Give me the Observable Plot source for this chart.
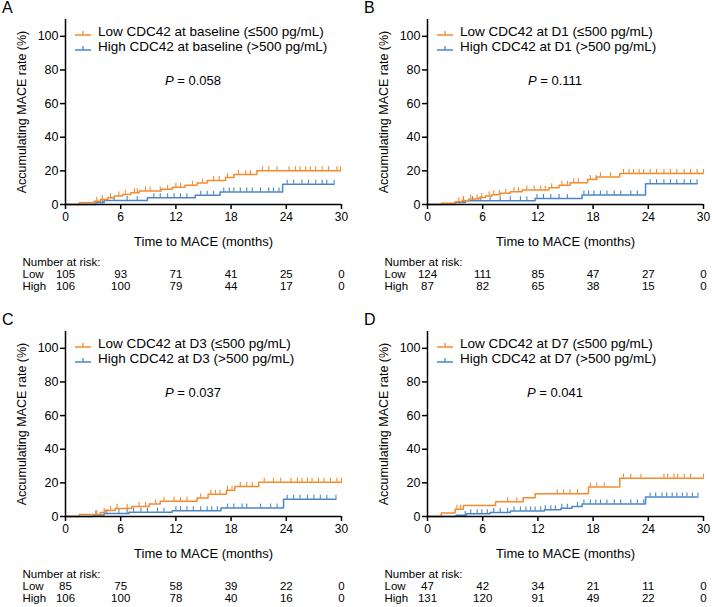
<!DOCTYPE html>
<html>
<head>
<meta charset="utf-8">
<script src="https://cdn.jsdelivr.net/npm/d3@7"></script>
<script src="https://cdn.jsdelivr.net/npm/@observablehq/plot@0.6"></script>
<style>
  body { margin: 0; background: #fff; font-family: "Liberation Sans", Arial, sans-serif; color: #000; }
  #root { position: relative; width: 712px; height: 607px; overflow: hidden; }
  .panel { position: absolute; width: 356px; height: 305px; }
  .panel svg { position: absolute; left: 0; overflow: visible; }
  .letter { position: absolute; left: 2px; top: 0px; font-size: 16px; line-height: 16px; }
  .legend { position: absolute; left: 75px; height: 16px; line-height: 16px; font-size: 13.5px; white-space: nowrap; display: flex; align-items: center; }
  .legend svg { position: static; margin-right: 7px; }
  .pval { position: absolute; left: 193px; top: 73px; transform: translateX(-50%); font-size: 13px; line-height: 16px; white-space: nowrap; }
</style>
</head>
<body>
<div id="root"></div>
<script>
// ---------------- data ----------------
const panelLetters = ["A", "B", "C", "D"];
const timepoints = ["baseline", "D1", "D3", "D7"];
const pValues = ["0.058", "0.111", "0.037", "0.041"];
const xTicks = [0, 6, 12, 18, 24, 30];
const yTicks = [0, 20, 40, 60, 80, 100];
const riskRows = ["Number at risk:", "Low", "High"];

// Panel A (baseline)
const lowTimesA  = [1.5, 3.1, 3.8, 4.6, 5.3, 6.2, 7.1, 8.0, 10.4, 11.6, 13.0, 14.3, 15.4, 17.4, 18.3, 20.8];
const lowRatesA  = [1.0, 2.0, 3.0, 4.0, 5.0, 6.0, 7.0, 8.0, 9.1, 10.2, 11.4, 12.8, 14.2, 16.0, 17.9, 20.1];
const lowCensorA = [3.4, 4.0, 4.9, 5.8, 6.5, 7.5, 7.8, 8.7, 9.2, 10.3, 11.1, 12.0, 12.5, 13.8, 14.9, 16.1, 16.7, 17.6, 18.8, 19.6, 20.1, 21.4, 22.1, 23.0, 24.3, 25.0, 25.5, 26.1, 26.6, 27.2, 27.9, 28.6, 29.5, 29.9];
const highTimesA  = [3.3, 4.2, 8.9, 14.1, 16.8, 23.6];
const highRatesA  = [1.2, 2.4, 4.0, 5.5, 7.5, 12.1];
const highCensorA = [4.0, 5.3, 6.7, 7.8, 9.6, 10.3, 11.1, 11.8, 12.5, 13.2, 14.7, 15.4, 16.1, 17.2, 17.8, 18.3, 19.0, 19.7, 20.3, 21.2, 22.1, 22.6, 23.2, 24.1, 24.8, 25.7, 26.4, 27.2, 27.9, 28.4, 29.2];
const riskLowA  = [105, 93, 71, 41, 25, 0];
const riskHighA = [106, 100, 79, 44, 17, 0];

// Panel B (D1)
const lowTimesB  = [1.5, 3.0, 3.8, 4.5, 5.6, 6.3, 7.0, 7.9, 9.0, 10.3, 13.2, 14.3, 15.5, 17.4, 18.4, 20.9];
const lowRatesB  = [0.8, 1.6, 2.4, 3.2, 4.1, 5.0, 5.8, 6.7, 7.6, 8.6, 10.0, 11.5, 13.0, 14.8, 16.4, 18.5];
const lowCensorB = [3.4, 3.9, 4.7, 5.4, 5.9, 6.7, 7.2, 7.8, 8.5, 9.4, 9.9, 10.8, 11.6, 12.3, 12.8, 13.5, 14.6, 15.2, 15.9, 16.4, 17.7, 18.3, 18.8, 19.9, 21.3, 21.9, 22.4, 23.0, 23.5, 24.2, 24.9, 25.7, 26.4, 27.1, 27.9, 28.6, 29.3, 30.0];
const highTimesB  = [3.0, 4.1, 11.7, 16.8, 23.7];
const highRatesB  = [1.2, 2.3, 3.6, 5.6, 12.4];
const highCensorB = [3.9, 4.9, 5.8, 6.8, 7.9, 9.0, 10.1, 10.8, 11.9, 12.6, 13.4, 14.3, 15.2, 17.0, 17.5, 18.1, 18.8, 19.5, 20.3, 21.0, 22.1, 22.8, 24.2, 24.9, 25.7, 26.4, 27.1, 27.9, 28.6, 29.3];
const riskLowB  = [124, 111, 85, 47, 27, 0];
const riskHighB = [87, 82, 65, 38, 15, 0];

// Panel C (D3)
const lowTimesC  = [1.5, 3.8, 4.3, 5.4, 7.2, 9.1, 10.3, 14.3, 15.5, 17.5, 18.4, 21.0];
const lowRatesC  = [1.2, 2.4, 3.6, 4.8, 6.0, 7.5, 9.0, 11.0, 13.2, 15.6, 17.9, 20.4];
const lowCensorC = [3.4, 4.2, 4.9, 5.6, 6.7, 8.0, 8.7, 9.8, 10.7, 11.8, 12.5, 13.2, 14.7, 15.8, 16.3, 16.8, 17.6, 18.1, 19.0, 19.7, 20.3, 21.6, 22.6, 23.4, 24.5, 25.2, 25.7, 26.3, 26.8, 27.5, 28.1, 28.8, 29.5, 30.0];
const highTimesC  = [3.1, 4.2, 6.9, 11.6, 16.9, 23.7];
const highRatesC  = [0.9, 1.8, 2.6, 3.4, 5.0, 10.2];
const highCensorC = [3.3, 4.5, 5.8, 6.7, 7.4, 8.2, 8.9, 10.0, 10.7, 12.0, 12.5, 13.2, 13.9, 14.7, 15.4, 15.9, 16.5, 17.6, 18.3, 19.2, 19.7, 21.2, 22.3, 23.0, 24.1, 24.8, 25.5, 26.3, 27.0, 27.7, 28.4, 29.4];
const riskLowC  = [85, 75, 58, 39, 22, 0];
const riskHighC = [106, 100, 78, 40, 16, 0];

// Panel D (D7)
const lowTimesD  = [1.5, 3.0, 3.9, 7.4, 10.4, 11.7, 17.5, 20.9];
const lowRatesD  = [2.1, 4.3, 6.5, 8.8, 11.1, 13.6, 17.5, 22.8];
const lowCensorD = [3.2, 3.6, 8.7, 9.7, 14.1, 14.8, 15.5, 16.3, 17.7, 18.4, 19.2, 21.3, 22.1, 23.2, 25.7, 26.1, 26.8, 27.2, 27.9, 28.6, 30.0];
const highTimesD  = [3.1, 4.2, 6.8, 9.0, 12.7, 14.5, 15.7, 16.8, 23.7];
const highRatesD  = [0.8, 1.6, 2.4, 3.2, 4.0, 4.9, 6.0, 7.4, 11.6];
const highCensorD = [4.1, 4.7, 5.4, 5.9, 6.5, 7.2, 7.9, 8.7, 9.4, 10.1, 10.7, 11.2, 11.7, 12.3, 12.8, 13.4, 13.9, 14.6, 15.2, 16.3, 17.0, 17.7, 18.3, 18.8, 19.5, 20.3, 21.0, 22.1, 22.8, 23.5, 24.2, 24.8, 25.5, 26.0, 26.6, 27.1, 27.7, 28.2, 28.8, 29.4];
const riskLowD  = [47, 42, 34, 21, 11, 0];
const riskHighD = [131, 120, 91, 49, 22, 0];

// ---------------- assembly ----------------
const ORANGE = "#F58A2E";
const BLUE = "#4A86C6";
const FONT = "'Liberation Sans', Arial, sans-serif";

const panelData = [
  {lowT: lowTimesA, lowP: lowRatesA, lowC: lowCensorA, highT: highTimesA, highP: highRatesA, highC: highCensorA, riskLow: riskLowA, riskHigh: riskHighA},
  {lowT: lowTimesB, lowP: lowRatesB, lowC: lowCensorB, highT: highTimesB, highP: highRatesB, highC: highCensorB, riskLow: riskLowB, riskHigh: riskHighB},
  {lowT: lowTimesC, lowP: lowRatesC, lowC: lowCensorC, highT: highTimesC, highP: highRatesC, highC: highCensorC, riskLow: riskLowC, riskHigh: riskHighC},
  {lowT: lowTimesD, lowP: lowRatesD, lowC: lowCensorD, highT: highTimesD, highP: highRatesD, highC: highCensorD, riskLow: riskLowD, riskHigh: riskHighD}
];

function stepData(times, rates, censor) {
  const pts = [{t: 0, p: 0}];
  times.forEach((t, i) => pts.push({t, p: rates[i]}));
  pts.push({t: d3.max(censor), p: rates[rates.length - 1]});
  return pts;
}
function censorData(times, rates, censor) {
  return censor.map(c => {
    let p = 0;
    times.forEach((t, i) => { if (t <= c) p = rates[i]; });
    return {t: c, p};
  });
}
function swatch(color) {
  return `<svg width="16" height="10"><line x1="0" x2="16" y1="8" y2="8" stroke="${color}" stroke-width="1.5"/><line x1="8" x2="8" y1="4" y2="8" stroke="${color}" stroke-width="1.3"/></svg>`;
}

const root = document.getElementById("root");
panelData.forEach((d, idx) => {
  const col = idx % 2, row = Math.floor(idx / 2);
  const div = document.createElement("div");
  div.className = "panel";
  div.style.left = (col * 362) + "px";
  div.style.top = (row * 312) + "px";
  root.appendChild(div);

  const lowSteps = stepData(d.lowT, d.lowP, d.lowC);
  const highSteps = stepData(d.highT, d.highP, d.highC);
  const lowCens = censorData(d.lowT, d.lowP, d.lowC);
  const highCens = censorData(d.highT, d.highP, d.highC);

  const chart = Plot.plot({
    width: 356, height: 250,
    marginLeft: 65, marginRight: 15, marginTop: 19, marginBottom: 46,
    x: {domain: [0, 30]},
    y: {domain: [0, 110]},
    style: {fontFamily: FONT, fontSize: "12px", color: "black", background: "transparent"},
    marks: [
      Plot.line(highSteps, {x: "t", y: "p", curve: "step-after", stroke: BLUE, strokeWidth: 1.5}),
      Plot.ruleX(highCens, {x: "t", y1: "p", y2: "p", insetTop: -4, stroke: BLUE, strokeWidth: 1.1}),
      Plot.line(lowSteps, {x: "t", y: "p", curve: "step-after", stroke: ORANGE, strokeWidth: 1.5}),
      Plot.ruleX(lowCens, {x: "t", y1: "p", y2: "p", insetTop: -4, stroke: ORANGE, strokeWidth: 1.1}),
      Plot.ruleY([0], {stroke: "black", strokeWidth: 1.5}),
      Plot.ruleX([0], {stroke: "black", strokeWidth: 1.5}),
      Plot.axisX({ticks: xTicks, tickSize: 5, tickPadding: 3, label: null, strokeWidth: 1.5, fontSize: 12}),
      Plot.axisY({ticks: yTicks, tickSize: 5, tickPadding: 2, strokeWidth: 1.5, fontSize: 12.5,
                  label: "Accumulating MACE rate (%)", labelAnchor: "center", labelArrow: "none", labelOffset: 48}),
      Plot.text(["Time to MACE (months)"], {frameAnchor: "bottom", dy: 37, fontSize: 13, lineAnchor: "middle"})
    ]
  });
  chart.style.top = "0px";
  div.appendChild(chart);

  const riskData = [];
  xTicks.forEach((t, i) => {
    riskData.push({t, row: "Low", n: d.riskLow[i]});
    riskData.push({t, row: "High", n: d.riskHigh[i]});
  });
  const table = Plot.plot({
    width: 356, height: 48,
    marginLeft: 65, marginRight: 15, marginTop: 11, marginBottom: 11.5,
    x: {domain: [0, 30], axis: null},
    y: {type: "point", domain: riskRows, padding: 0, axis: null},
    style: {fontFamily: FONT, fontSize: "11.5px", color: "black", background: "transparent"},
    marks: [
      Plot.text(riskData, {x: "t", y: "row", text: "n"}),
      Plot.text(riskRows, {y: r => r, text: r => r, frameAnchor: "left", dx: -43, textAnchor: "start"})
    ]
  });
  table.style.top = "250px";
  div.appendChild(table);

  const letter = document.createElement("div");
  letter.className = "letter";
  letter.textContent = panelLetters[idx];
  div.appendChild(letter);

  const tp = timepoints[idx];
  const leg1 = document.createElement("div");
  leg1.className = "legend";
  leg1.style.top = "24px";
  leg1.innerHTML = swatch(ORANGE) + `<span>Low CDC42 at ${tp} (≤500 pg/mL)</span>`;
  div.appendChild(leg1);
  const leg2 = document.createElement("div");
  leg2.className = "legend";
  leg2.style.top = "39px";
  leg2.innerHTML = swatch(BLUE) + `<span>High CDC42 at ${tp} (&gt;500 pg/mL)</span>`;
  div.appendChild(leg2);

  const pv = document.createElement("div");
  pv.className = "pval";
  pv.innerHTML = `<i>P</i> = ${pValues[idx]}`;
  div.appendChild(pv);
});
</script>
</body>
</html>
